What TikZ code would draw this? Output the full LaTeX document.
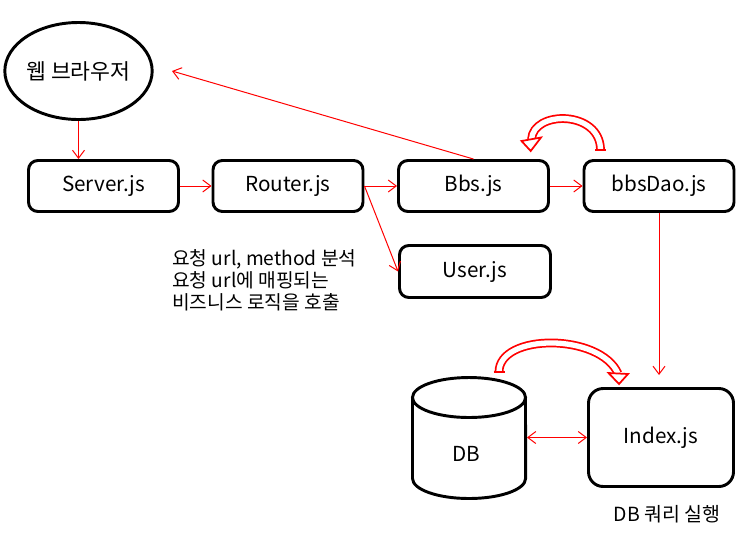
\documentclass[tikz,border=0pt]{standalone}
\usepackage{fontspec}
\setmainfont{Noto Sans CJK KR}
\usetikzlibrary{arrows.meta,shapes.geometric}
\begin{document}
\begin{tikzpicture}[x=0.75pt,y=-0.75pt,
  box/.style={draw=black, line width=2.2pt, rounded corners=7pt, minimum width=112.5pt, minimum height=38.25pt, inner sep=0pt, font=\fontsize{15.5}{18}\selectfont},
  redarrow/.style={draw=red, line width=0.75pt, -{Straight Barb[length=6pt,width=9pt]}},
  bigarrow/.style={draw=red, line width=1.3pt, double=white, double distance=4pt},
  bighead/.style={draw=red, line width=1.3pt, fill=white, line join=miter},
  note/.style={font=\fontsize{14.4}{16.6}\selectfont, inner sep=0pt},
  cyl/.style={draw=black, line width=2.2pt}
]
\useasboundingbox (0,0) rectangle (755,551);

% nodes
\node[draw=black, line width=2.2pt, ellipse, minimum width=102.75pt, minimum height=72.75pt, inner sep=0pt, font=\fontsize{16.2}{18}\selectfont] (br) at (78.5,71) {\raisebox{-1pt}{웹 브라우저}};
\node[box] (sv) at (103.5,186) {\raisebox{-1.5pt}{Server.js}};
\node[box] (rt) at (288,186) {\raisebox{-1.5pt}{Router.js}};
\node[box] (bbs) at (473.5,186) {\raisebox{-1.5pt}{Bbs.js}};
\node[box] (dao) at (659,186) {\raisebox{-1.5pt}{bbsDao.js}};
\node[box, minimum width=113.25pt, minimum height=39pt] (usr) at (475,271.5) {\raisebox{-1.5pt}{User.js}};
\node[box, rounded corners=11pt, minimum width=108.75pt, minimum height=73.5pt] (idx) at (661,437.5) {\raisebox{-1pt}{Index.js}};

% DB cylinder
\draw[cyl] (412.5,397.5) -- (412.5,478.5) arc[start angle=180, end angle=360, x radius=42.4pt, y radius=15pt] -- (525.5,397.5);
\draw[cyl] (469,397.5) ellipse[x radius=42.4pt, y radius=15pt];
\node[inner sep=0pt, font=\fontsize{15.5}{18}\selectfont] (db) at (466,454) {DB};
\coordinate (dbE) at (527,437.5);

% texts
\node[note, anchor=north west, align=left] (memo) at (172,249) {요청 url, method 분석\\요청 url에 매핑되는\\비즈니스 로직을 호출};
\node[note, font=\fontsize{14.6}{17}\selectfont] (q) at (667,514) {DB 쿼리 실행};

% thin red connectors
\coordinate (brtip) at (172,71);
\coordinate (idxin) at (659,375);
\draw[redarrow] (br.south) -- (br.south |- sv.north);
\draw[redarrow] (sv.east) -- (rt.west);
\draw[redarrow] (rt.east) -- (bbs.west);
\draw[redarrow] (rt.east) -- (usr.west);
\draw[redarrow] (bbs.east) -- (dao.west);
\draw[redarrow] (bbs.north) -- (brtip);
\draw[redarrow] (dao.south) -- (idxin);
\draw[draw=red, line width=0.75pt, {Straight Barb[length=6pt,width=9pt]}-{Straight Barb[length=6pt,width=9pt]}] (dbE) -- (idx.west);

% thick curved arrows
\draw[bigarrow] (600.5,150) .. controls (600.5,110) and (533,110) .. (531.5,139.5);
\draw[red, line width=1.3pt] (595,150) -- (606,150);
\draw[bighead] (521.5,141) -- (541,137.5) -- (530.7,151) -- cycle;

\draw[bigarrow] (499,372) .. controls (499,333) and (600,333) .. (618,373.5);
\draw[red, line width=1.3pt] (493.5,372) -- (504.5,372);
\draw[bighead] (608.5,373) -- (628,374) -- (619,384) -- cycle;
\end{tikzpicture}
\end{document}
